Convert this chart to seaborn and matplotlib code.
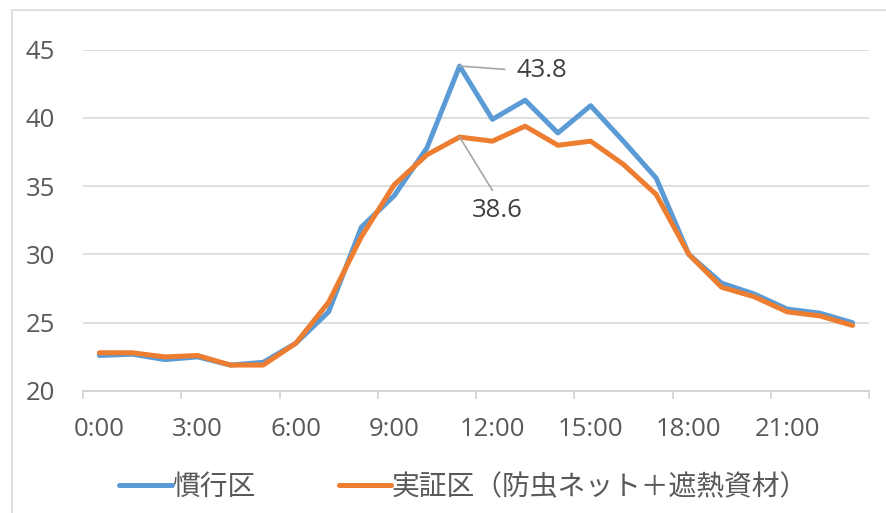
import numpy as np
import pandas as pd
import seaborn as sns
import matplotlib.pyplot as plt
from matplotlib.patches import Rectangle
from matplotlib.lines import Line2D

hours = [f"{h}:00" for h in range(24)]
conventional = [22.6, 22.7, 22.3, 22.5, 21.9, 22.1, 23.5, 25.8, 32.0, 34.3, 37.8, 43.8,
                39.9, 41.3, 38.9, 40.9, 38.3, 35.6, 30.0, 27.9, 27.1, 26.0, 25.7, 25.0]
trial = [22.8, 22.8, 22.5, 22.6, 21.9, 21.9, 23.5, 26.5, 31.3, 35.1, 37.3, 38.6,
         38.3, 39.4, 38.0, 38.3, 36.6, 34.4, 30.0, 27.6, 26.9, 25.8, 25.5, 24.8]
names = ["慣行区", "実証区（防虫ネット＋遮熱資材）"]
tick_labels = ["0:00", "3:00", "6:00", "9:00", "12:00", "15:00", "18:00", "21:00"]

df = pd.DataFrame({
    "idx": list(range(24)) * 2,
    "temp": conventional + trial,
    "plot": [names[0]] * 24 + [names[1]] * 24,
})

sns.set_theme(style="white")
plt.rcParams['font.family'] = ['Open Sans', 'Noto Sans CJK JP', 'DejaVu Sans']

fig = plt.figure(figsize=(8.86, 5.13), dpi=100)
ax = fig.add_axes([83 / 886, 1 - 391 / 513, (869 - 83) / 886, (391 - 49.7) / 513])

palette = {names[0]: "#5B9BD5", names[1]: "#ED7D31"}
sns.lineplot(data=df, x="idx", y="temp", hue="plot", palette=palette,
             linewidth=3.6, ax=ax, legend=False)

ax.set_xlim(-0.5, 23.5)
ax.set_ylim(20, 45)
ax.set_yticks(range(20, 46, 5))
ax.yaxis.grid(True, color="#d9d9d9", linewidth=1.2)
ax.set_axisbelow(True)
for s in ["left", "right", "top"]:
    ax.spines[s].set_visible(False)
ax.spines["bottom"].set_color("#d0d0d0")
ax.spines["bottom"].set_linewidth(1.2)

ax.set_xticks(range(0, 24, 3))
ax.set_xticklabels(tick_labels)
ax.set_xticks(np.arange(-0.5, 24, 3), minor=True)
ax.tick_params(axis="x", which="major", length=0, pad=19, labelsize=18.5, labelcolor="#595959")
ax.tick_params(axis="x", which="minor", bottom=True, length=6, width=1.2, color="#d0d0d0")
ax.tick_params(axis="y", length=0, pad=20, labelsize=18.5, labelcolor="#595959")
ax.set_xlabel("")
ax.set_ylabel("")

# data labels for the peak
ax.annotate("43.8", xy=(11, 43.8), xytext=(12.73, 43.5), fontsize=18.5, color="#404040",
            va="center", ha="left",
            arrowprops=dict(arrowstyle="-", color="#a6a6a6", lw=1.2, relpos=(0, 0.5),
                            shrinkA=6, shrinkB=0))
ax.annotate("38.6", xy=(11, 38.6), xytext=(12.15, 33.2), fontsize=18.5, color="#404040",
            va="center", ha="center",
            arrowprops=dict(arrowstyle="-", color="#a6a6a6", lw=1.2, relpos=(0.5, 1),
                            shrinkA=4, shrinkB=0))

handles = [Line2D([], [], color=palette[n], linewidth=3.6) for n in names]
fig.legend(handles, names, loc="center", bbox_to_anchor=(0.523, 1 - 488 / 513), ncol=2,
           frameon=False, fontsize=20, handlelength=1.9, handletextpad=0.0,
           columnspacing=3.0, labelcolor="#595959")

fig.add_artist(Rectangle((12 / 886, -0.1), 1.0, 1.1 - 10 / 513, transform=fig.transFigure,
                         fill=False, edgecolor="#d9d9d9", linewidth=1.2))

plt.savefig("out.png", dpi=100, facecolor="w")
